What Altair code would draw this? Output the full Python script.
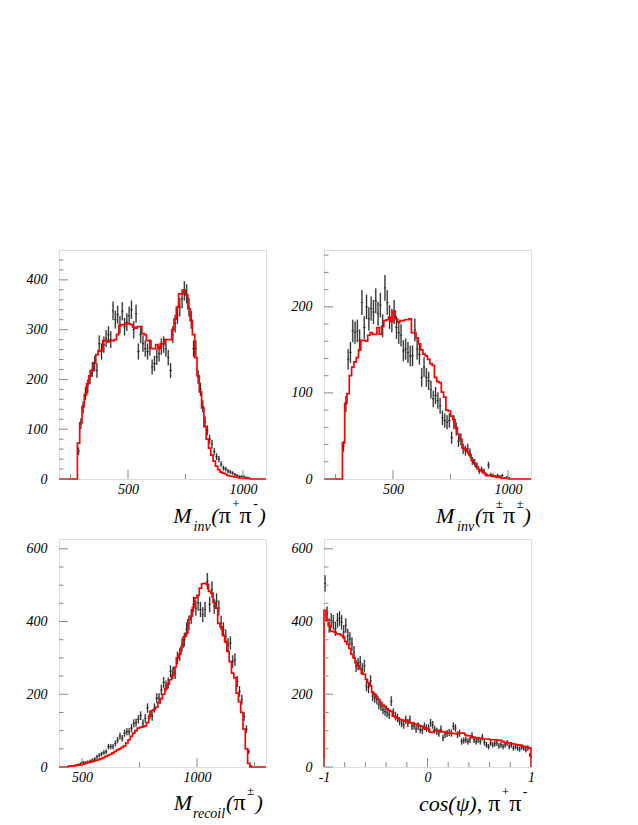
import altair as alt
import pandas as pd
import numpy as np

# ---------------- data ----------------
# Top-left: M_inv(pi+ pi-), 10-unit bins
TL_DATA_START = 280
TL_DATA = [56, 111, 144, 172, 186, 205, 220, 232, 218, 272, 256, 270, 282, 290, 280, 338,
           320, 330, 310, 337, 306, 315, 328, 340, 300, 332, 256, 290, 272, 262, 256, 264,
           225, 232, 245, 252, 266, 270, 262, 244, 218, 290, 312, 330, 345, 362, 378, 372,
           345, 320, 262, 262, 205, 180, 146, 115, 98, 80, 70, 55, 45, 40, 30, 22, 20, 16,
           14, 12, 9, 7, 5, 5, 5, 3, 2]
TL_MC_START = 280
TL_MC = [72, 113, 146, 169, 191, 207, 217, 234, 250, 258, 258, 278, 278, 276, 278, 278,
         280, 290, 308, 310, 310, 312, 312, 310, 305, 303, 306, 306, 292, 290, 278, 278,
         262, 262, 270, 262, 272, 272, 280, 280, 280, 300, 321, 345, 372, 372, 380, 370,
         342, 318, 290, 244, 207, 175, 143, 105, 80, 62, 48, 36, 26, 19, 14, 12, 10, 7,
         6, 5, 4, 3, 2, 2, 1, 1, 1]

# Top-right: M_inv(pi± pi±)
TR_DATA_START = 280
TR_DATA = [38, 87, 139, 147, 172, 170, 172, 161, 205, 176, 200, 186, 198, 194, 207, 192,
           202, 178, 222, 205, 188, 184, 194, 176, 170, 167, 149, 151, 147, 143, 143, 173,
           151, 145, 118, 130, 118, 114, 104, 93, 97, 91, 85, 71, 68, 66, 68, 48, 66, 58,
           44, 46, 35, 33, 35, 30, 21, 19, 15, 9, 11, 9, 5, 16, 5, 4, 3, 4, 3, 4, 1, 2, 1]
TR_MC_START = 280
TR_MC = [42, 88, 99, 120, 130, 136, 141, 150, 161, 161, 160, 167, 170, 168, 168, 176,
         168, 177, 184, 185, 188, 183, 195, 186, 182, 184, 184, 185, 185, 186, 170, 170,
         164, 157, 150, 145, 143, 139, 134, 132, 118, 113, 112, 101, 95, 80, 79, 73, 69,
         60, 52, 46, 36, 35, 32, 28, 22, 18, 14, 11, 10, 7, 5, 4, 4, 3, 3, 2, 2, 1, 1, 1]

# Bottom-left: M_recoil(pi±)
BL_DATA_START = 440
BL_DATA = [2, 3, 4, 5, 7, 10, 13, 12, 14, 16, 19, 22, 28, 32, 36, 40, 42, 56, 56, 56, 65,
           74, 85, 79, 93, 97, 97, 107, 120, 122, 131, 141, 120, 134, 162, 143, 139, 162,
           189, 189, 212, 232, 223, 231, 263, 258, 258, 300, 309, 336, 350, 378, 396, 414,
           447, 437, 451, 433, 419, 433, 511, 447, 488, 442, 456, 437, 396, 378, 359, 336,
           341, 290, 295, 235, 208, 185, 139, 104, 42, 3]
BL_MC_START = 440
BL_MC = [2, 3, 3, 4, 5, 6, 8, 10, 12, 13, 15, 17, 19, 21, 23, 26, 29, 32, 35, 39, 43, 47,
         50, 54, 58, 66, 75, 84, 93, 100, 107, 109, 111, 113, 122, 140, 155, 158, 165, 176,
         188, 200, 215, 228, 240, 252, 275, 300, 310, 330, 358, 368, 405, 415, 440, 465,
         472, 492, 504, 505, 502, 483, 478, 452, 437, 395, 385, 362, 345, 318, 290, 258,
         245, 203, 180, 150, 104, 50, 10]

# Bottom-right: cos(psi), pi+ pi-, bins of 0.02 from -1 to 1
BR_DATA_START = -1.0
BR_DATA = [505, 421, 389, 403, 398, 380, 403, 408, 398, 371, 389, 361, 352, 338, 315, 278,
           283, 288, 269, 278, 223, 218, 237, 195, 190, 186, 172, 167, 158, 153, 149, 144,
           181, 149, 140, 135, 126, 121, 116, 130, 121, 130, 112, 114, 104, 112, 103, 101,
           112, 107, 107, 121, 116, 103, 98, 93, 104, 80, 89, 92, 95, 93, 112, 107, 89, 93,
           70, 73, 75, 70, 75, 86, 75, 70, 75, 70, 82, 67, 61, 56, 66, 61, 64, 66, 58, 61,
           56, 61, 66, 56, 61, 52, 56, 52, 49, 55, 52, 47, 52, 33]
BR_MC_START = -1.0
BR_MC = [431, 403, 389, 373, 373, 370, 366, 366, 362, 357, 345, 338, 326, 310, 301, 287,
         278, 270, 258, 255, 241, 232, 223, 205, 200, 192, 186, 177, 170, 167, 160, 156,
         153, 140, 138, 135, 131, 130, 128, 127, 126, 122, 121, 119, 118, 116, 113, 112,
         107, 105, 104, 96, 95, 101, 101, 100, 98, 97, 96, 93, 93, 93, 92, 92, 92, 93, 93,
         93, 88, 86, 86, 82, 82, 80, 80, 79, 77, 77, 77, 77, 75, 75, 75, 74, 73, 73, 70,
         67, 67, 66, 64, 64, 62, 61, 60, 59, 56, 56, 54, 52]

# tick values / labels
TL_YMAJ = [0, 100, 200, 300, 400]
TL_YMIN = [20, 40, 60, 80, 120, 140, 160, 180, 220, 240, 260, 280, 320, 340, 360, 380, 420, 440]
TR_YMAJ = [0, 100, 200]
TR_YMIN = [20, 40, 60, 80, 120, 140, 160, 180, 220, 240, 260]
B_YMAJ = [0, 200, 400, 600]
B_YMIN = [50, 100, 150, 250, 300, 350, 450, 500, 550]
T_XMAJ = [500, 1000]
T_XMIN = [250, 750]
BL_XMAJ = [500, 1000]
BL_XMIN = [750, 1250]
BR_XMAJ = [-1, 0, 1]
BR_XMIN = [-0.8, -0.6, -0.4, -0.2, 0.2, 0.4, 0.6, 0.8]

# ---------------- styling ----------------
W, H = 207, 229
FONT = "Liberation Serif"
TICK_COLOR = "#8a8a8a"
LABEL_EXPR = "datum.value < 0 ? '-' + abs(datum.value) : '' + datum.value"


def panel(data_start, data_vals, mc_start, mc_vals, bw, xdom, ydom,
          ymaj, ymin, xmaj, xmin, title_pieces, height=H):
    pts = pd.DataFrame({
        "c": [data_start + (i + 0.5) * bw for i in range(len(data_vals))],
        "v": data_vals,
    })
    pts = pts[pts["v"] > 0]
    pts["lo"] = pts["c"] - bw / 2
    pts["hi"] = pts["c"] + bw / 2
    pts["e1"] = pts["v"] - np.sqrt(pts["v"])
    pts["e2"] = pts["v"] + np.sqrt(pts["v"])

    sx, sv, so = [xdom[0]], [0], [0]
    for i, v in enumerate(mc_vals):
        sx.append(mc_start + i * bw)
        sv.append(v)
        so.append(i + 1)
    sx += [mc_start + len(mc_vals) * bw, xdom[1]]
    sv += [0, 0]
    so += [len(mc_vals) + 1, len(mc_vals) + 2]
    step = pd.DataFrame({"x": sx, "v": sv, "o": so})

    xs = alt.Scale(domain=list(xdom), nice=False, zero=False)
    ys = alt.Scale(domain=list(ydom), nice=False, zero=False)
    xax = alt.Axis(values=xmaj, labelExpr=LABEL_EXPR, title=None, ticks=False, tickSize=0,
                   domain=False, grid=False, labelFont=FONT, labelFontStyle="italic",
                   labelFontSize=14, labelColor="black", labelPadding=3, labelFlush=False)
    yax = alt.Axis(values=ymaj, labelExpr=LABEL_EXPR, title=None, ticks=False, tickSize=0,
                   domain=False, grid=False, labelFont=FONT, labelFontStyle="italic",
                   labelFontSize=14, labelColor="black", labelPadding=12, labelFlush=False)

    def X(f):
        return alt.X(f, type="quantitative", scale=xs, axis=xax)

    def Y(f):
        return alt.Y(f, type="quantitative", scale=ys, axis=yax)

    layers = []
    # error bars (light grey halo + dark core, vertical and horizontal)
    for col, sw in (("#b5b5b5", 1.8), ("#1a1a1a", 0.9)):
        layers.append(alt.Chart(pts).mark_rule(color=col, strokeWidth=sw).encode(
            x=X("c"), y=Y("e1"), y2="e2"))
        layers.append(alt.Chart(pts).mark_rule(color=col, strokeWidth=sw * 0.8).encode(
            x=X("lo"), x2="hi", y=Y("v")))
    # MC histogram
    layers.append(alt.Chart(step).mark_line(color="#ff0000", strokeWidth=1.7,
                                            interpolate="step-after").encode(
        x=X("x"), y=Y("v"), order="o:Q"))
    # inner ticks
    for vals, ln in ((ymaj, 9), (ymin, 4.5)):
        d = pd.DataFrame({"t": vals})
        layers.append(alt.Chart(d).mark_rule(color=TICK_COLOR, strokeWidth=1).encode(
            y=Y("t"), x=alt.value(0), x2=alt.value(ln)))
    for vals, ln in ((xmaj, 9), (xmin, 5)):
        d = pd.DataFrame({"t": vals})
        layers.append(alt.Chart(d).mark_rule(color=TICK_COLOR, strokeWidth=1).encode(
            x=X("t"), y=alt.value(height), y2=alt.value(height - ln)))
    # axis title made of pieces
    for txt, px, dy, size, style in title_pieces:
        layers.append(alt.Chart(alt.Data(values=[{}])).mark_text(
            text=txt, font=FONT, fontSize=size, fontStyle=style, align="left",
            baseline="alphabetic", color="black").encode(
            x=alt.value(px), y=alt.value(height + dy)))
    return alt.layer(*layers).properties(width=W, height=height)


PI = 24
tl_title = [("M", 114.3, 44, 22, "italic"), ("inv", 134.5, 52, 14, "italic"),
            ("(", 152.3, 44, 22, "italic"), ("π", 159.8, 44, PI, "normal"),
            ("+", 173.2, 29, 13, "normal"), ("π", 180.6, 44, PI, "normal"),
            ("-", 194.2, 29, 14, "normal"), (")", 199.4, 44, 22, "italic")]
tr_title = [("M", 112, 44, 22, "italic"), ("inv", 133, 52, 14, "italic"),
            ("(", 151, 44, 22, "italic"), ("π", 158.4, 44, PI, "normal"),
            ("±", 171.8, 29, 13, "normal"), ("π", 179, 44, PI, "normal"),
            ("±", 192.4, 29, 13, "normal"), (")", 199.6, 44, 22, "italic")]
bl_title = [("M", 114.7, 43, 22, "italic"), ("recoil", 134, 51, 14, "italic"),
            ("(", 167, 43, 22, "italic"), ("π", 174.4, 43, PI, "normal"),
            ("±", 188, 28, 13, "normal"), (")", 196.5, 43, 22, "italic")]
br_title = [("cos(ψ),", 95, 44, 22, "italic"), ("π", 164.3, 44, PI, "normal"),
            ("+", 177.8, 29, 13, "normal"), ("π", 185.2, 44, PI, "normal"),
            ("-", 198.8, 29, 14, "normal")]

tl = panel(TL_DATA_START, TL_DATA, TL_MC_START, TL_MC, 10, (200, 1100), (0, 460),
           TL_YMAJ, TL_YMIN, T_XMAJ, T_XMIN, tl_title)
tr = panel(TR_DATA_START, TR_DATA, TR_MC_START, TR_MC, 10, (200, 1100), (0, 266),
           TR_YMAJ, TR_YMIN, T_XMAJ, T_XMIN, tr_title)
bl = panel(BL_DATA_START, BL_DATA, BL_MC_START, BL_MC, 10, (400, 1300), (0, 627),
           B_YMAJ, B_YMIN, BL_XMAJ, BL_XMIN, bl_title, height=228)
br = panel(BR_DATA_START, BR_DATA, BR_MC_START, BR_MC, 0.02, (-1, 1), (0, 627),
           B_YMAJ, B_YMIN, BR_XMAJ, BR_XMIN, br_title, height=228)

chart = alt.concat(tl, tr, bl, br, columns=2, spacing={"row": 60, "column": 58},
                   bounds="flush").properties(
    padding={"left": 17, "top": 241, "right": 10, "bottom": 0}
).configure_view(stroke="#8a8a8a", strokeWidth=1).configure(background="white")

chart.save("out.html", embed_options={"renderer": "svg", "actions": False})
